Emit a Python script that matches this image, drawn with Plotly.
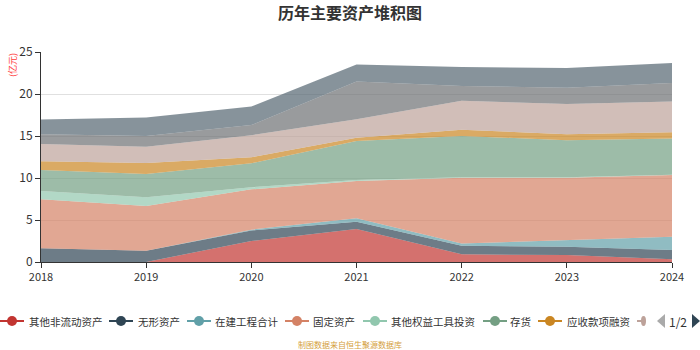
import plotly.graph_objects as go

years = ["2018", "2019", "2020", "2021", "2022", "2023", "2024"]

names = ["其他非流动资产", "无形资产", "在建工程合计", "固定资产", "其他权益工具投资",
         "存货", "应收款项融资", "应收账款", "交易性金融资产", "货币资金"]

s_other_noncurrent = [0, 0, 2.5, 3.93, 0.91, 0.83, 0.32]
s_intangible = [1.63, 1.35, 1.25, 0.87, 1.03, 0.99, 1.11]
s_construction = [0, 0, 0.1, 0.4, 0.26, 0.78, 1.57]
s_fixed = [5.83, 5.32, 4.8, 4.44, 7.84, 7.44, 7.36]
s_equity_inv = [0.99, 1.03, 0.25, 0.12, 0.06, 0.06, 0.04]
s_inventory = [2.5, 2.78, 2.85, 4.64, 4.9, 4.4, 4.3]
s_receivable_fin = [1.05, 1.32, 0.71, 0.4, 0.75, 0.7, 0.75]
s_receivable = [2.05, 1.93, 2.64, 2.2, 3.45, 3.6, 3.65]
s_trading = [1.15, 1.27, 1.2, 4.5, 1.75, 1.95, 2.2]
s_cash = [1.75, 2.2, 2.2, 2.0, 2.25, 2.35, 2.4]

series = [s_other_noncurrent, s_intangible, s_construction, s_fixed, s_equity_inv,
          s_inventory, s_receivable_fin, s_receivable, s_trading, s_cash]

colors = ["#c23531", "#2f4554", "#61a0a8", "#d48265", "#91c7ae",
          "#749f83", "#ca8622", "#bda29a", "#6e7074", "#546570"]

# legend first page: item start pixel x and text start pixel x
legend_icon_x = [0, 109, 187, 285, 363, 483, 538]
legend_text_x = [27, 136, 213, 311, 389, 508, 565]


def rgba(h, a):
    h = h.lstrip("#")
    r, g, b = int(h[0:2], 16), int(h[2:4], 16), int(h[4:6], 16)
    return f"rgba({r},{g},{b},{a})"


# plot area in pixels
L, R, T, B = 41, 672, 52, 262


def px(x):
    return (x - L) / (R - L)


def py(y):
    return (B - y) / (B - T)


def tri_path(pts):
    return "M " + " L ".join(f"{px(a):.5f},{py(b):.5f}" for a, b in pts) + " Z"


fig = go.Figure()
for n, s, c in zip(names, series, colors):
    fig.add_trace(go.Scatter(
        x=years, y=s, name=n, stackgroup="one", mode="lines",
        line=dict(width=0, color=c), fillcolor=rgba(c, 0.7),
        showlegend=False, hoverinfo="x+y+name"))

font_family = "Noto Sans CJK SC, Noto Sans, sans-serif"

shapes = []
annotations = []
ly = 321
for i in range(7):
    x0 = legend_icon_x[i]
    c = colors[i]
    shapes.append(dict(type="line", xref="paper", yref="paper",
                       x0=px(x0), x1=px(x0 + 24), y0=py(ly), y1=py(ly),
                       line=dict(color=c, width=2)))
    cx = x0 + 12
    shapes.append(dict(type="circle", xref="paper", yref="paper",
                       x0=px(cx - 5), x1=px(cx + 5), y0=py(ly + 5), y1=py(ly - 5),
                       fillcolor=c, line=dict(color=c, width=0)))
    annotations.append(dict(text=names[i], xref="paper", yref="paper",
                            x=px(legend_text_x[i]), y=py(ly), xanchor="left",
                            yanchor="middle", showarrow=False,
                            font=dict(size=10.5, color="#333")))
# partial 8th icon at the page edge
shapes.append(dict(type="line", xref="paper", yref="paper",
                   x0=px(637), x1=px(644), y0=py(ly), y1=py(ly),
                   line=dict(color=colors[7], width=2)))
shapes.append(dict(type="circle", xref="paper", yref="paper",
                   x0=px(641), x1=px(646), y0=py(ly + 5), y1=py(ly - 5),
                   fillcolor=colors[7], line=dict(color=colors[7], width=0)))
# page arrows
shapes.append(dict(type="path", xref="paper", yref="paper",
                   path=tri_path([(657, ly), (665, ly - 7), (665, ly + 7)]),
                   fillcolor="#aaaaaa", line=dict(width=0)))
shapes.append(dict(type="path", xref="paper", yref="paper",
                   path=tri_path([(692, ly - 7), (700, ly), (692, ly + 7)]),
                   fillcolor="#2f4554", line=dict(width=0)))

annotations += [
    dict(text="(亿元)", xref="paper", yref="paper", x=px(12), y=py(51),
         xanchor="center", yanchor="top", textangle=-90, showarrow=False,
         font=dict(size=9, color="#ff3b3b")),
    dict(text="制图数据来自恒生聚源数据库", xref="paper", yref="paper",
         x=px(350), y=py(344), xanchor="center", yanchor="middle",
         showarrow=False, font=dict(size=8, color="#d4a03c")),
    dict(text="1/2", xref="paper", yref="paper", x=px(678), y=py(ly),
         xanchor="center", yanchor="middle", showarrow=False,
         font=dict(size=12, color="#333")),
]

fig.update_layout(
    width=700, height=350,
    margin=dict(l=L, r=700 - R, t=T, b=350 - B),
    paper_bgcolor="white", plot_bgcolor="white",
    font=dict(family=font_family, size=12, color="#333"),
    title=dict(text="<b>历年主要资产堆积图</b>", x=0.5, xanchor="center",
               y=0.978, yanchor="top", font=dict(size=16, color="#333")),
    showlegend=False,
    xaxis=dict(type="category", range=[0, 6], showgrid=False,
               showline=True, linecolor="#333", linewidth=1,
               ticks="outside", ticklen=5, tickcolor="#333",
               tickfont=dict(size=11, color="#333"), zeroline=False,
               fixedrange=True),
    yaxis=dict(range=[0, 25], dtick=5, showgrid=True, gridcolor="#e0e0e0",
               gridwidth=1, showline=True, linecolor="#333", linewidth=1,
               ticks="outside", ticklen=5, tickcolor="#333",
               tickfont=dict(size=12, color="#333"), zeroline=False,
               fixedrange=True),
    shapes=shapes,
    annotations=annotations,
)

fig.write_html("out.html")
